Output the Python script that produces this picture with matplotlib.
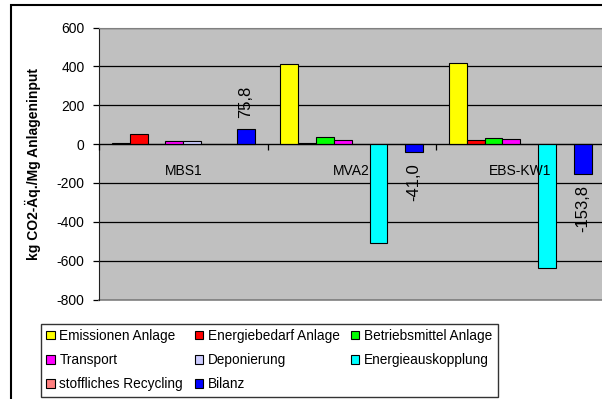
import numpy as np
import matplotlib
matplotlib.use('Agg')
import matplotlib.pyplot as plt
from matplotlib.patches import Rectangle

plt.rcParams['font.family'] = ['Liberation Sans', 'DejaVu Sans']

categories = ['MBS1', 'MVA2', 'EBS-KW1']
series = [
    'Emissionen Anlage', 'Energiebedarf Anlage', 'Betriebsmittel Anlage',
    'Transport', 'Deponierung', 'Energieauskopplung',
    'stoffliches Recycling', 'Bilanz',
]
emissionen = [3, 410, 419]
energiebedarf = [50, 4, 20]
betriebsmittel = [0, 35, 31]
transport = [15, 20, 25]
deponierung = [15, 0, 0]
energieauskopplung = [0, -511, -640]
recycling = [0, 0, 0]
bilanz = [75.8, -41.0, -153.8]
values = [emissionen, energiebedarf, betriebsmittel, transport,
          deponierung, energieauskopplung, recycling, bilanz]
colors = ['#FFFF00', '#FF0000', '#00FF00', '#FF00FF',
          '#CCCCFF', '#00FFFF', '#FF8080', '#0000FF']
yticks = [600, 400, 200, 0, -200, -400, -600, -800]

W, H = 602, 399
fig = plt.figure(figsize=(W / 100, H / 100), dpi=100)

# outer chart frame, runs past the right and bottom edges
fig.patches.append(Rectangle((11 / W, -0.2), 1.2, 1 - 4.5 / H + 0.2,
                             transform=fig.transFigure, fill=False,
                             edgecolor='black', lw=1.5, zorder=0))

ax = fig.add_axes([99 / W, 1 - 299.5 / H, 505.5 / W, 272 / H])
ax.set_facecolor('#C0C0C0')

n = len(series)
bw = 1 / (n + 1.45)
x0 = np.arange(len(categories)) + (1 - n * bw) / 2
handles = []
for i, (name, vals, col) in enumerate(zip(series, values, colors)):
    xs = x0 + i * bw + bw / 2
    h = ax.bar(xs, vals, width=bw, color=col, edgecolor='black',
               linewidth=0.8, label=name, zorder=3)
    handles.append(h)
    if name == 'Bilanz':
        for x, v in zip(xs, vals):
            ax.annotate(f'{v:.1f}'.replace('.', ','), xy=(x, v),
                        xytext=(0, 8 if v > 0 else -8),
                        textcoords='offset points', rotation=90,
                        ha='center', va='bottom' if v > 0 else 'top',
                        fontsize=12, zorder=5)

ax.set_xlim(0, 3)
ax.set_ylim(-800, 600)
ax.set_yticks(yticks)
ax.set_yticklabels([str(t) for t in yticks])
ax.set_axisbelow(True)
ax.yaxis.grid(True, color='black', lw=0.9)

ax.set_xticks([0, 1, 2, 3])
ax.set_xticklabels([])
ax.set_xticks([0.5, 1.5, 2.5], minor=True)
ax.set_xticklabels(categories, minor=True)
ax.tick_params(axis='x', which='major', direction='out', length=4,
               color='black', width=0.9)
ax.tick_params(axis='x', which='minor', length=0, pad=14, labelsize=10)
ax.tick_params(axis='y', direction='out', length=4, pad=6.5, labelsize=10,
               width=0.9)
# category names sit on top of the bars
ax.xaxis.set_zorder(6)

ax.spines['bottom'].set_position(('data', 0))
ax.spines['bottom'].set_color('black')
ax.spines['bottom'].set_zorder(4)
ax.spines['left'].set_color('#202020')
for s in ('top', 'right'):
    ax.spines[s].set_color('#808080')
ax.axhline(-800, color='#808080', lw=1.2, zorder=2, clip_on=False)

fig.text(33 / W, 1 - 163.5 / H, 'kg CO2-Äq./Mg Anlageninput',
         rotation=90, ha='center', va='center', fontsize=10,
         fontweight='bold')

# legend filled column-wise, so reorder to read row by row
order = [0, 3, 6, 1, 4, 7, 2, 5]
leg = fig.legend([handles[i] for i in order], [series[i] for i in order],
                 ncol=3, loc='upper left',
                 bbox_to_anchor=(41 / W, 1 - 323.5 / H),
                 fontsize=9.8, frameon=True, fancybox=False,
                 handlelength=0.6, handleheight=0.6, handletextpad=0.35,
                 columnspacing=0.85, labelspacing=0.75, borderpad=0.4,
                 borderaxespad=0)
leg.get_frame().set_edgecolor('black')
leg.get_frame().set_linewidth(1.0)

fig.savefig('out.png', dpi=100)
